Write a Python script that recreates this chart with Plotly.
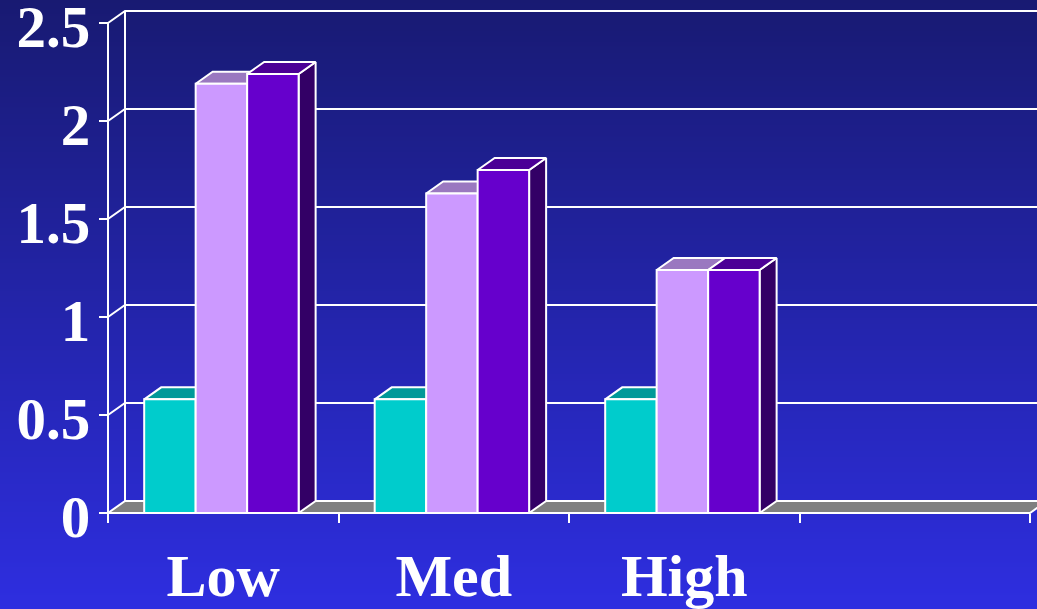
import base64, struct, zlib
import plotly.graph_objects as go

# ---------------- data ----------------
categories = ["Low", "Med", "High"]
series_1 = [0.58, 0.58, 0.58]      # cyan
series_2 = [2.19, 1.63, 1.24]      # lavender
series_3 = [2.24, 1.75, 1.24]      # purple
y_tick_vals = [0, 0.5, 1, 1.5, 2, 2.5]
y_tick_text = ["0", "0.5", "1", "1.5", "2", "2.5"]
n_slots = 4  # category slots on the axis (last one empty)

# ---------------- style ----------------
W, H = 1037, 609
FRONT = ["#00CCCC", "#CC99FF", "#6600CC"]
TOP = ["#009999", "#9A78C0", "#4B0096"]
SIDE = ["#006666", "#664D80", "#330066"]
LINE = "white"
LW = 2

# pixel geometry of the plotting frame
x0_px, slot_px = 108, 230.5
y0_px, unit_px = 513, 196.0
xmin = -0.5 - x0_px / slot_px
xmax = -0.5 + (W - x0_px) / slot_px
ymax = y0_px / unit_px
ymin = -(H - y0_px) / unit_px
DX = 17 / slot_px     # depth offset (x)
DY = 12 / unit_px     # depth offset (y)
group_frac = 0.67
bar_w = group_frac / 3
shift = -0.008


def png_gradient(h, top, bot):
    raw = b""
    for i in range(h):
        t = i / (h - 1)
        c = [round(top[k] + (bot[k] - top[k]) * t) for k in range(3)]
        raw += b"\x00" + bytes(c)

    def chunk(tag, data):
        return (struct.pack(">I", len(data)) + tag + data +
                struct.pack(">I", zlib.crc32(tag + data) & 0xFFFFFFFF))
    png = b"\x89PNG\r\n\x1a\n"
    png += chunk(b"IHDR", struct.pack(">IIBBBBB", 1, h, 8, 2, 0, 0, 0))
    png += chunk(b"IDAT", zlib.compress(raw, 9))
    png += chunk(b"IEND", b"")
    return "data:image/png;base64," + base64.b64encode(png).decode()


fig = go.Figure()


def poly(xs, ys, fill):
    fig.add_trace(go.Scatter(
        x=xs + [xs[0]], y=ys + [ys[0]], mode="lines", fill="toself",
        fillcolor=fill, line=dict(color=LINE, width=LW),
        hoverinfo="skip", showlegend=False))


def lines(xs, ys):
    fig.add_trace(go.Scatter(
        x=xs, y=ys, mode="lines", line=dict(color=LINE, width=LW),
        hoverinfo="skip", showlegend=False, connectgaps=False))


# back wall gridlines + left wall
gx, gy = [], []
for v in y_tick_vals[1:]:
    gx += [-0.5, -0.5 + DX, xmax + 1, None]
    gy += [v, v + DY, v + DY, None]
gx += [-0.5, -0.5, None, -0.5 + DX, -0.5 + DX, None]
gy += [0, y_tick_vals[-1], None, DY, y_tick_vals[-1] + DY, None]
lines(gx, gy)

# floor
right = n_slots - 0.5
poly([-0.5, right, right + DX, -0.5 + DX], [0, 0, DY, DY], "#808080")

# bars (side, top, front for each bar, left to right)
all_series = [series_1, series_2, series_3]
for ci in range(len(categories)):
    for si, s in enumerate(all_series):
        v = s[ci]
        l = ci + shift - group_frac / 2 + si * bar_w
        r = l + bar_w
        poly([r, r + DX, r + DX, r], [0, DY, v + DY, v], SIDE[si])
        poly([l, r, r + DX, l + DX], [v, v, v + DY, v + DY], TOP[si])
        poly([l, r, r, l], [0, 0, v, v], FRONT[si])

tick_font = dict(family="Liberation Serif", size=59, color="white", weight="bold")
cat_font = dict(family="Liberation Serif", size=60, color="white", weight="bold")

fig.update_layout(
    width=W, height=H, margin=dict(l=0, r=0, t=0, b=0, autoexpand=False),
    paper_bgcolor="#2224A8", plot_bgcolor="rgba(0,0,0,0)",
    showlegend=False, hovermode=False,
    images=[dict(source=png_gradient(H, (24, 26, 114), (46, 46, 224)),
                 xref="paper", yref="paper", x=0, y=1, sizex=1, sizey=1,
                 xanchor="left", yanchor="top", sizing="stretch", layer="below")],
    xaxis=dict(domain=[0, 1], range=[xmin, xmax], anchor="free",
               position=(H - y0_px) / H, showgrid=False, zeroline=False,
               showline=False, automargin=False, tickmode="array",
               tickvals=list(range(len(categories))), ticktext=categories,
               ticks="", tickfont=cat_font, ticklabelstandoff=22,
               ticklabeloverflow="allow",
               minor=dict(tickmode="array",
                          tickvals=[i - 0.5 for i in range(n_slots + 1)],
                          ticks="outside", ticklen=9, tickwidth=2,
                          tickcolor="white", showgrid=False)),
    yaxis=dict(domain=[0, 1], range=[ymin, ymax], anchor="free",
               position=x0_px / W, showgrid=False, zeroline=False,
               showline=False, automargin=False, tickmode="array",
               tickvals=y_tick_vals,
               ticktext=y_tick_text, ticks="outside", ticklen=9, tickwidth=2,
               tickcolor="white", tickfont=tick_font, ticklabelshift=3,
               ticklabelstandoff=-3, ticklabeloverflow="allow"),
)

fig.write_html("out.html")
